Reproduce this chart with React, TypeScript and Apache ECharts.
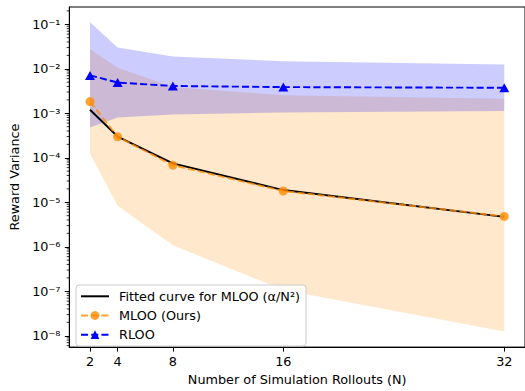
import React, { useEffect, useRef } from "react";
import * as echarts from "echarts";

const rollouts = [2, 4, 8, 16, 32];
const fittedCurve = [1.2e-3, 3.0e-4, 7.5e-5, 1.88e-5, 4.7e-6];
const mlooMean = [1.83e-3, 2.95e-4, 6.8e-5, 1.79e-5, 4.8e-6];
const mlooLower = [1.23e-4, 8.3e-6, 1.08e-6, 1.07e-7, 1.25e-8];
const mlooUpper = [2.79e-2, 1.06e-2, 3.9e-3, 2.54e-3, 2.12e-3];
const rlooMean = [7.1e-3, 4.9e-3, 4.1e-3, 3.87e-3, 3.74e-3];
const rlooLower = [4.8e-4, 8.07e-4, 9.4e-4, 1.04e-3, 1.13e-3];
const rlooUpper = [0.111, 0.03, 0.0188, 0.0148, 0.0125];
const yTickExponents = [-8, -7, -6, -5, -4, -3, -2, -1];
const xTicks = [2, 4, 8, 16, 32];

const FONT = "DejaVu Sans";
const FS = 12.8;
const Y_MIN = -8.255;
const Y_MAX = -0.612;
const X_MIN = 0.5;
const X_MAX = 33.5;

const SUP: Record<string, string> = {
  "-": "\u207B", "0": "\u2070", "1": "\u00B9", "2": "\u00B2", "3": "\u00B3",
  "4": "\u2074", "5": "\u2075", "6": "\u2076", "7": "\u2077", "8": "\u2078", "9": "\u2079",
};
const sup = (n: number) => String(Math.round(n)).split("").map((c) => SUP[c] || c).join("");
const lg = (v: number) => Math.log10(v);

const minorTickValues: number[] = [];
for (let e = -9; e <= 0; e++) {
  for (let k = 2; k <= 9; k++) {
    const v = lg(k) + e;
    if (v >= Y_MIN && v <= Y_MAX) minorTickValues.push(v);
  }
}

const FIT_NAME = "Fitted curve for MLOO (\u03B1/N\u00B2)";

const bandSeries = (name: string, lo: number[], hi: number[], fill: string) => ({
  name, type: "custom", silent: true, clip: true,
  encode: { x: 0, y: [1, 2] },
  data: rollouts.map((n, i) => [n, lg(lo[i]), lg(hi[i])]),
  renderItem: (params: any, api: any) => {
    if (params.dataIndexInside !== 0) return null;
    const count = params.dataInsideLength;
    const upper: number[][] = [];
    const lower: number[][] = [];
    for (let i = 0; i < count; i++) {
      const x = api.value(0, i);
      lower.push(api.coord([x, api.value(1, i)]));
      upper.push(api.coord([x, api.value(2, i)]));
    }
    return {
      type: "polygon",
      shape: { points: upper.concat(lower.reverse()) },
      style: { fill, stroke: "none" },
    };
  },
});

export default function App() {
  const ref = useRef<HTMLDivElement>(null);
  useEffect(() => {
    if (!ref.current) return;
    const chart = echarts.init(ref.current, null, { renderer: "svg" });
    const pts = (arr: number[]) => rollouts.map((n, i) => [n, lg(arr[i])]);
    const orange = "rgba(255,140,0,0.8)";
    const blue = "#0000ff";
    chart.setOption({
      animation: false,
      grid: {
        left: 69.3, top: 7, width: 464, height: 345.3,
        show: true, borderColor: "#000", borderWidth: 1, backgroundColor: "transparent",
      },
      xAxis: {
        type: "value", min: X_MIN, max: X_MAX,
        name: "Number of Simulation Rollouts (N)", nameLocation: "middle", nameGap: 24,
        nameTextStyle: { fontFamily: FONT, fontSize: FS, color: "#000" },
        axisLine: { lineStyle: { color: "#000", width: 1 } },
        axisTick: { customValues: xTicks, length: 4.5, lineStyle: { color: "#000", width: 1 } },
        axisLabel: { customValues: xTicks, margin: 8, fontFamily: FONT, fontSize: FS, color: "#000" },
        splitLine: { show: false },
      },
      yAxis: {
        type: "value", min: Y_MIN, max: Y_MAX,
        name: "Reward Variance", nameLocation: "middle", nameGap: 45,
        nameTextStyle: { fontFamily: FONT, fontSize: FS, color: "#000" },
        axisLine: { show: true, lineStyle: { color: "#000", width: 1 } },
        axisTick: { show: true, customValues: yTickExponents, length: 4.5, lineStyle: { color: "#000", width: 1 } },
        axisLabel: {
          customValues: yTickExponents, margin: 9, fontFamily: FONT, fontSize: FS, color: "#000",
          formatter: (v: number) => "10" + sup(v),
        },
        splitLine: { show: false },
      },
      legend: {
        left: 76, top: 285, orient: "vertical",
        data: [
          { name: FIT_NAME, itemStyle: { color: "rgba(0,0,0,0)", opacity: 0, borderWidth: 0 } },
          { name: "MLOO (Ours)" },
          { name: "RLOO" },
        ],
        itemWidth: 28, itemHeight: 11, itemGap: 6.2,
        padding: [4.8, 6, 4.8, 4],
        backgroundColor: "rgba(255,255,255,0.8)", borderColor: "#cccccc", borderWidth: 1, borderRadius: 3,
        textStyle: { fontFamily: FONT, fontSize: FS, color: "#000", lineHeight: 13, padding: [0, 0, 0, 5] },
      },
      series: [
        bandSeries("mlooBand", mlooLower, mlooUpper, "rgba(255,140,0,0.2)"),
        bandSeries("rlooBand", rlooLower, rlooUpper, "rgba(0,0,255,0.2)"),
        {
          name: FIT_NAME, type: "line", data: pts(fittedCurve),
          symbol: "none", color: "#000", lineStyle: { color: "#000", width: 1.9 },
        },
        {
          name: "MLOO (Ours)", type: "line", data: pts(mlooMean), symbol: "circle", symbolSize: 9,
          color: orange, itemStyle: { color: orange },
          lineStyle: { color: orange, width: 1.9, type: [7.1, 3.1] },
        },
        {
          name: "RLOO", type: "line", data: pts(rlooMean), symbol: "triangle", symbolSize: [10, 9],
          color: blue, itemStyle: { color: blue },
          lineStyle: { color: blue, width: 1.9, type: [7.1, 3.1] },
        },
        {
          name: "minorTicks", type: "custom", silent: true, clip: false,
          data: minorTickValues.map((v) => [X_MIN, v]),
          renderItem: (_p: any, api: any) => {
            const p = api.coord([api.value(0), api.value(1)]);
            return {
              type: "line",
              shape: { x1: p[0] - 2.6, y1: p[1], x2: p[0], y2: p[1] },
              style: { stroke: "#000", lineWidth: 0.8 },
            };
          },
        },
      ],
    });
    return () => chart.dispose();
  }, []);
  return (
    <div
      ref={ref}
      style={{ position: "fixed", left: 0, top: 0, width: 525, height: 391, background: "#fff" }}
    />
  );
}
